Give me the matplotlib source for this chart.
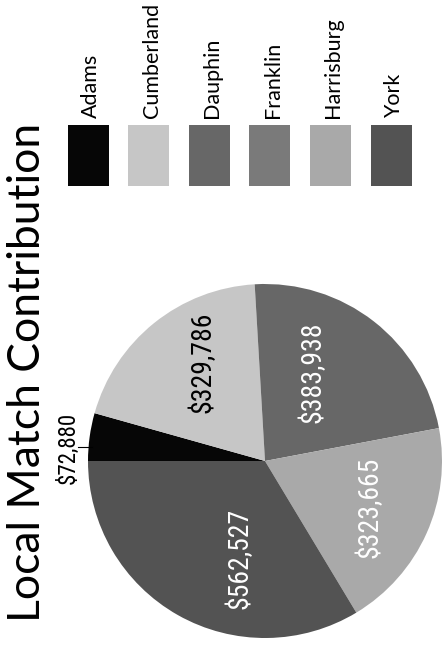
import matplotlib
matplotlib.use('Agg')
import matplotlib.pyplot as plt
from matplotlib.patches import Rectangle

counties = ['Adams', 'Cumberland', 'Dauphin', 'Franklin', 'Harrisburg', 'York']
amounts = [72880, 329786, 383938, 0, 323665, 562527]
colors = ['#060606', '#c6c6c6', '#676767', '#7a7a7a', '#a9a9a9', '#535353']
label_colors = ['black', 'black', 'white', 'white', 'white', 'white']

W, H = 442, 651
fig = plt.figure(figsize=(W / 100, H / 100), dpi=100)


def fx(px):
    return px / W


def fy(py):
    return 1 - py / H


# the whole chart is laid on its side: the pie starts at 9 o'clock
cx, cy, r = 265, 461, 177
ax = fig.add_axes([fx(cx - r), fy(cy + r), 2 * r / W, 2 * r / H])
wedges, _ = ax.pie(amounts, colors=colors, startangle=180, counterclock=False,
                   wedgeprops=dict(linewidth=0))
ax.set_xlim(-1, 1)
ax.set_ylim(-1, 1)

# value labels (positions in pie radius units)
label_pos = {
    'Adams': (-1.11, 0.073),
    'Cumberland': (-0.35, 0.56),
    'Dauphin': (0.27, 0.50),
    'Harrisburg': (0.59, -0.26),
    'York': (-0.14, -0.55),
}
narrow = ['Roboto Condensed', 'Roboto']
for name, amt, col in zip(counties, amounts, label_colors):
    if amt == 0:
        continue
    x, y = label_pos[name]
    size = 16.5 if name == 'Adams' else 20
    ax.text(x, y, f'${amt:,}', rotation=90, ha='center', va='center',
            fontsize=size, color=col, family=narrow)
ax.plot([-1.055, -0.975], [0.079, 0.079], color='black', lw=0.8, clip_on=False)

fig.text(fx(28), fy(372), 'Local Match Contribution', rotation=90,
         ha='center', va='center', fontsize=32, family='Lato')

# legend, one column per county
for i, (name, col) in enumerate(zip(counties, colors)):
    x0 = 67.5 + i * 60.6
    fig.add_artist(Rectangle((fx(x0), fy(186)), 41 / W, 61 / H,
                             transform=fig.transFigure, color=col, lw=0))
    fig.text(fx(x0 + 23.5), fy(118), name, rotation=90, ha='center',
             va='bottom', fontsize=15.5, family='Lato')

fig.savefig('out.png', dpi=100)
